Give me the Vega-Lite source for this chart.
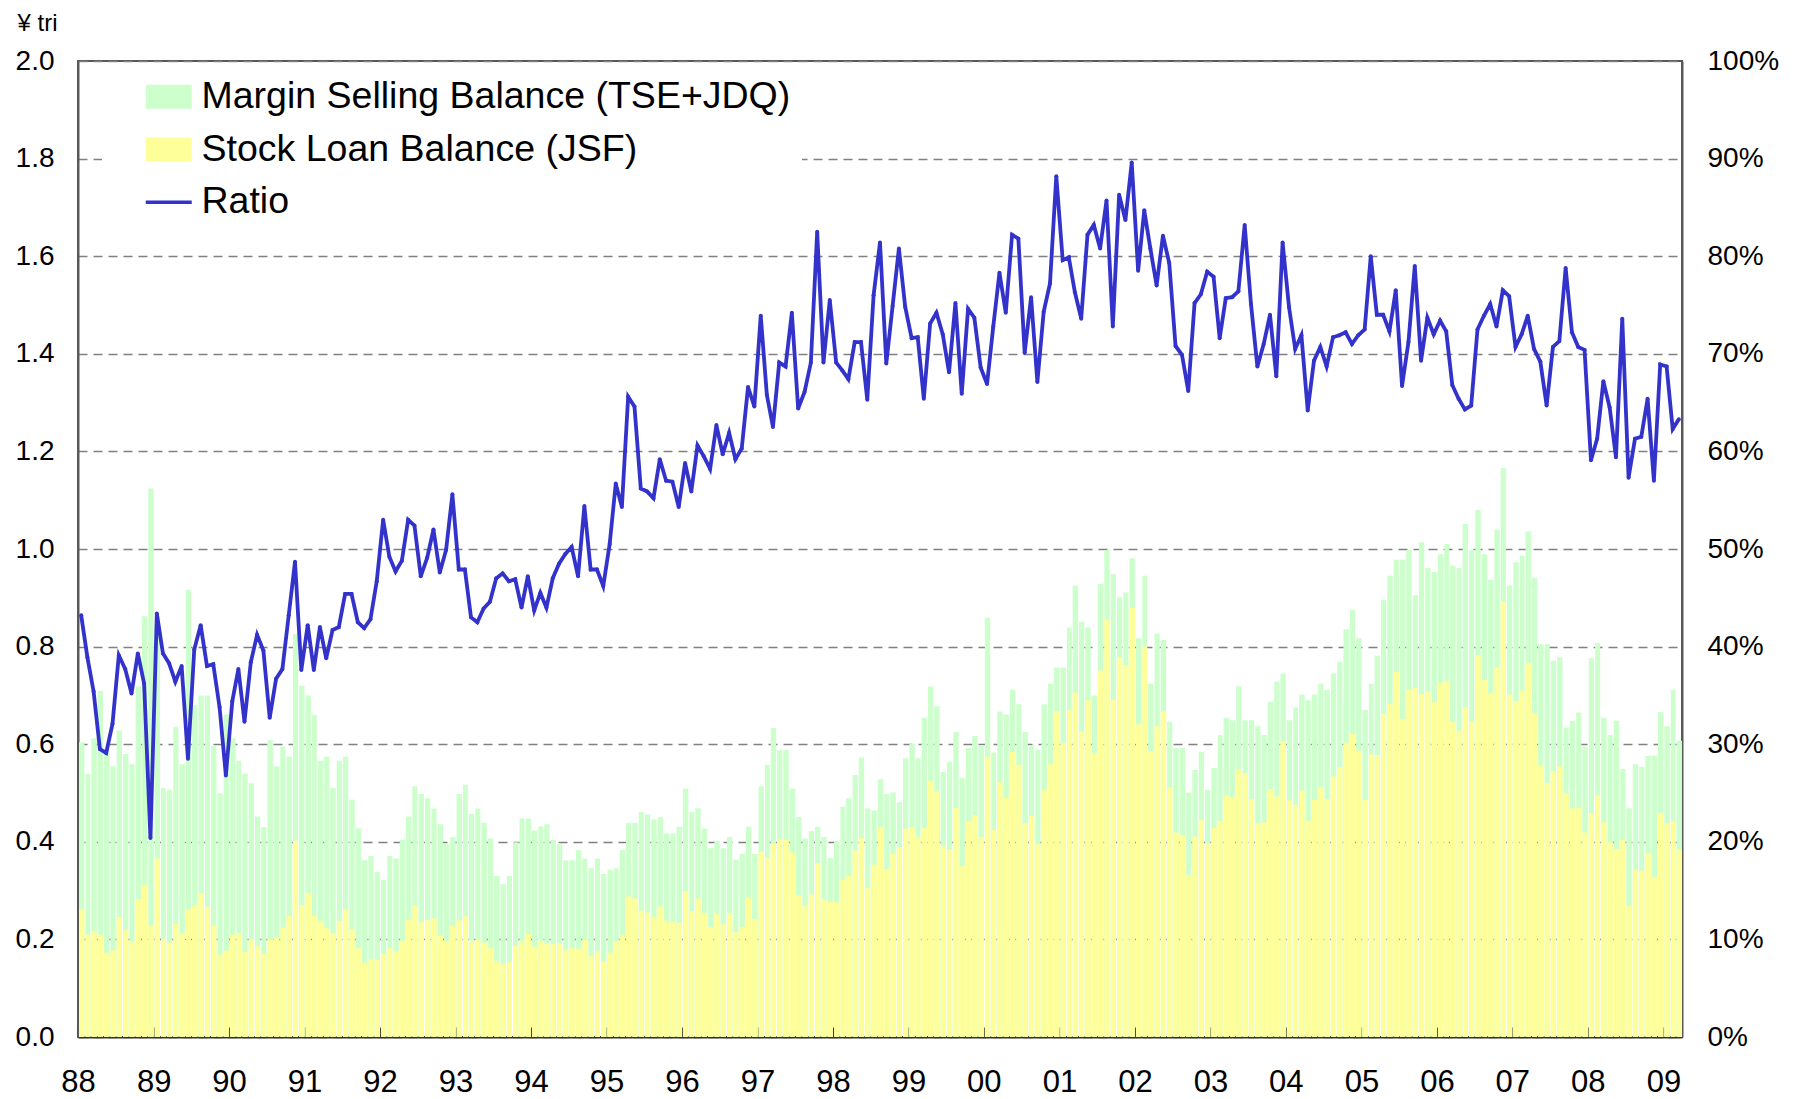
{
"$schema": "https://vega.github.io/schema/vega-lite/v6.json",
"width": 1604, "height": 976,
"autosize": {"type": "none"},
"padding": {"left": 78, "top": 61, "right": 112, "bottom": 62},
"background": "white",
"config": {"view": {"stroke": "#595959", "strokeWidth": 2}, "font": "Liberation Sans"},
"data": {"values": [
{"d":"1988-01-01","g":0.604,"s":0.261,"r":0.432},{"d":"1988-02-01","g":0.539,"s":0.210,"r":0.389},{"d":"1988-03-01","g":0.612,"s":0.217,"r":0.354},{"d":"1988-04-01","g":0.709,"s":0.209,"r":0.295},{"d":"1988-05-01","g":0.590,"s":0.172,"r":0.291},{"d":"1988-06-01","g":0.555,"s":0.178,"r":0.321},{"d":"1988-07-01","g":0.628,"s":0.246,"r":0.391},{"d":"1988-08-01","g":0.580,"s":0.219,"r":0.377},{"d":"1988-09-01","g":0.559,"s":0.197,"r":0.352},{"d":"1988-10-01","g":0.719,"s":0.283,"r":0.393},{"d":"1988-11-01","g":0.862,"s":0.312,"r":0.362},{"d":"1988-12-01","g":1.124,"s":0.229,"r":0.204},
{"d":"1989-01-01","g":0.843,"s":0.366,"r":0.434},{"d":"1989-02-01","g":0.510,"s":0.200,"r":0.393},{"d":"1989-03-01","g":0.506,"s":0.194,"r":0.383},{"d":"1989-04-01","g":0.636,"s":0.232,"r":0.364},{"d":"1989-05-01","g":0.559,"s":0.212,"r":0.380},{"d":"1989-06-01","g":0.916,"s":0.261,"r":0.285},{"d":"1989-07-01","g":0.680,"s":0.270,"r":0.397},{"d":"1989-08-01","g":0.700,"s":0.295,"r":0.422},{"d":"1989-09-01","g":0.700,"s":0.266,"r":0.380},{"d":"1989-10-01","g":0.596,"s":0.228,"r":0.382},{"d":"1989-11-01","g":0.500,"s":0.169,"r":0.338},{"d":"1989-12-01","g":0.661,"s":0.177,"r":0.268},
{"d":"1990-01-01","g":0.612,"s":0.210,"r":0.344},{"d":"1990-02-01","g":0.566,"s":0.213,"r":0.377},{"d":"1990-03-01","g":0.540,"s":0.174,"r":0.323},{"d":"1990-04-01","g":0.520,"s":0.200,"r":0.384},{"d":"1990-05-01","g":0.452,"s":0.186,"r":0.412},{"d":"1990-06-01","g":0.430,"s":0.170,"r":0.396},{"d":"1990-07-01","g":0.608,"s":0.199,"r":0.327},{"d":"1990-08-01","g":0.555,"s":0.204,"r":0.367},{"d":"1990-09-01","g":0.595,"s":0.224,"r":0.377},{"d":"1990-10-01","g":0.575,"s":0.248,"r":0.432},{"d":"1990-11-01","g":0.826,"s":0.402,"r":0.487},{"d":"1990-12-01","g":0.720,"s":0.270,"r":0.376},
{"d":"1991-01-01","g":0.700,"s":0.295,"r":0.422},{"d":"1991-02-01","g":0.660,"s":0.248,"r":0.376},{"d":"1991-03-01","g":0.566,"s":0.238,"r":0.420},{"d":"1991-04-01","g":0.575,"s":0.223,"r":0.388},{"d":"1991-05-01","g":0.510,"s":0.213,"r":0.417},{"d":"1991-06-01","g":0.566,"s":0.238,"r":0.420},{"d":"1991-07-01","g":0.575,"s":0.261,"r":0.454},{"d":"1991-08-01","g":0.486,"s":0.221,"r":0.454},{"d":"1991-09-01","g":0.428,"s":0.182,"r":0.425},{"d":"1991-10-01","g":0.362,"s":0.152,"r":0.419},{"d":"1991-11-01","g":0.371,"s":0.159,"r":0.428},{"d":"1991-12-01","g":0.338,"s":0.158,"r":0.467},
{"d":"1992-01-01","g":0.322,"s":0.171,"r":0.530},{"d":"1992-02-01","g":0.371,"s":0.183,"r":0.492},{"d":"1992-03-01","g":0.366,"s":0.175,"r":0.477},{"d":"1992-04-01","g":0.404,"s":0.197,"r":0.488},{"d":"1992-05-01","g":0.452,"s":0.240,"r":0.530},{"d":"1992-06-01","g":0.514,"s":0.269,"r":0.524},{"d":"1992-07-01","g":0.498,"s":0.235,"r":0.472},{"d":"1992-08-01","g":0.489,"s":0.240,"r":0.491},{"d":"1992-09-01","g":0.468,"s":0.243,"r":0.520},{"d":"1992-10-01","g":0.436,"s":0.208,"r":0.476},{"d":"1992-11-01","g":0.395,"s":0.197,"r":0.499},{"d":"1992-12-01","g":0.410,"s":0.228,"r":0.556},
{"d":"1993-01-01","g":0.498,"s":0.239,"r":0.479},{"d":"1993-02-01","g":0.517,"s":0.248,"r":0.479},{"d":"1993-03-01","g":0.457,"s":0.197,"r":0.430},{"d":"1993-04-01","g":0.468,"s":0.199,"r":0.425},{"d":"1993-05-01","g":0.439,"s":0.193,"r":0.439},{"d":"1993-06-01","g":0.407,"s":0.182,"r":0.446},{"d":"1993-07-01","g":0.330,"s":0.155,"r":0.470},{"d":"1993-08-01","g":0.313,"s":0.149,"r":0.475},{"d":"1993-09-01","g":0.330,"s":0.154,"r":0.467},{"d":"1993-10-01","g":0.399,"s":0.187,"r":0.469},{"d":"1993-11-01","g":0.448,"s":0.197,"r":0.440},{"d":"1993-12-01","g":0.448,"s":0.211,"r":0.472},
{"d":"1994-01-01","g":0.423,"s":0.185,"r":0.437},{"d":"1994-02-01","g":0.432,"s":0.197,"r":0.455},{"d":"1994-03-01","g":0.436,"s":0.192,"r":0.440},{"d":"1994-04-01","g":0.404,"s":0.190,"r":0.470},{"d":"1994-05-01","g":0.395,"s":0.192,"r":0.485},{"d":"1994-06-01","g":0.362,"s":0.179,"r":0.495},{"d":"1994-07-01","g":0.362,"s":0.182,"r":0.502},{"d":"1994-08-01","g":0.383,"s":0.181,"r":0.472},{"d":"1994-09-01","g":0.366,"s":0.199,"r":0.544},{"d":"1994-10-01","g":0.346,"s":0.166,"r":0.479},{"d":"1994-11-01","g":0.366,"s":0.175,"r":0.479},{"d":"1994-12-01","g":0.334,"s":0.154,"r":0.462},
{"d":"1995-01-01","g":0.342,"s":0.173,"r":0.505},{"d":"1995-02-01","g":0.346,"s":0.196,"r":0.567},{"d":"1995-03-01","g":0.383,"s":0.208,"r":0.543},{"d":"1995-04-01","g":0.439,"s":0.288,"r":0.656},{"d":"1995-05-01","g":0.439,"s":0.284,"r":0.646},{"d":"1995-06-01","g":0.461,"s":0.259,"r":0.562},{"d":"1995-07-01","g":0.456,"s":0.255,"r":0.559},{"d":"1995-08-01","g":0.446,"s":0.246,"r":0.552},{"d":"1995-09-01","g":0.451,"s":0.267,"r":0.592},{"d":"1995-10-01","g":0.417,"s":0.238,"r":0.570},{"d":"1995-11-01","g":0.417,"s":0.237,"r":0.569},{"d":"1995-12-01","g":0.431,"s":0.234,"r":0.543},
{"d":"1996-01-01","g":0.509,"s":0.299,"r":0.588},{"d":"1996-02-01","g":0.461,"s":0.258,"r":0.559},{"d":"1996-03-01","g":0.469,"s":0.284,"r":0.606},{"d":"1996-04-01","g":0.427,"s":0.254,"r":0.595},{"d":"1996-05-01","g":0.387,"s":0.225,"r":0.582},{"d":"1996-06-01","g":0.402,"s":0.252,"r":0.627},{"d":"1996-07-01","g":0.387,"s":0.231,"r":0.597},{"d":"1996-08-01","g":0.410,"s":0.254,"r":0.619},{"d":"1996-09-01","g":0.363,"s":0.215,"r":0.592},{"d":"1996-10-01","g":0.375,"s":0.226,"r":0.603},{"d":"1996-11-01","g":0.431,"s":0.287,"r":0.666},{"d":"1996-12-01","g":0.375,"s":0.242,"r":0.646},
{"d":"1997-01-01","g":0.514,"s":0.380,"r":0.739},{"d":"1997-02-01","g":0.558,"s":0.367,"r":0.658},{"d":"1997-03-01","g":0.633,"s":0.396,"r":0.625},{"d":"1997-04-01","g":0.588,"s":0.406,"r":0.691},{"d":"1997-05-01","g":0.588,"s":0.404,"r":0.687},{"d":"1997-06-01","g":0.509,"s":0.378,"r":0.742},{"d":"1997-07-01","g":0.451,"s":0.290,"r":0.644},{"d":"1997-08-01","g":0.407,"s":0.269,"r":0.661},{"d":"1997-09-01","g":0.422,"s":0.292,"r":0.691},{"d":"1997-10-01","g":0.431,"s":0.356,"r":0.825},{"d":"1997-11-01","g":0.410,"s":0.283,"r":0.691},{"d":"1997-12-01","g":0.367,"s":0.277,"r":0.755},
{"d":"1998-01-01","g":0.400,"s":0.276,"r":0.691},{"d":"1998-02-01","g":0.472,"s":0.322,"r":0.683},{"d":"1998-03-01","g":0.489,"s":0.330,"r":0.674},{"d":"1998-04-01","g":0.537,"s":0.382,"r":0.712},{"d":"1998-05-01","g":0.573,"s":0.408,"r":0.712},{"d":"1998-06-01","g":0.468,"s":0.306,"r":0.653},{"d":"1998-07-01","g":0.464,"s":0.353,"r":0.760},{"d":"1998-08-01","g":0.528,"s":0.430,"r":0.814},{"d":"1998-09-01","g":0.498,"s":0.344,"r":0.690},{"d":"1998-10-01","g":0.501,"s":0.375,"r":0.749},{"d":"1998-11-01","g":0.481,"s":0.389,"r":0.808},{"d":"1998-12-01","g":0.571,"s":0.427,"r":0.748},
{"d":"1999-01-01","g":0.601,"s":0.430,"r":0.716},{"d":"1999-02-01","g":0.571,"s":0.409,"r":0.717},{"d":"1999-03-01","g":0.654,"s":0.428,"r":0.654},{"d":"1999-04-01","g":0.718,"s":0.525,"r":0.731},{"d":"1999-05-01","g":0.678,"s":0.503,"r":0.742},{"d":"1999-06-01","g":0.543,"s":0.391,"r":0.720},{"d":"1999-07-01","g":0.564,"s":0.384,"r":0.681},{"d":"1999-08-01","g":0.625,"s":0.470,"r":0.752},{"d":"1999-09-01","g":0.531,"s":0.350,"r":0.659},{"d":"1999-10-01","g":0.592,"s":0.442,"r":0.746},{"d":"1999-11-01","g":0.617,"s":0.455,"r":0.737},{"d":"1999-12-01","g":0.598,"s":0.410,"r":0.686},
{"d":"2000-01-01","g":0.859,"s":0.575,"r":0.669},{"d":"2000-02-01","g":0.583,"s":0.424,"r":0.728},{"d":"2000-03-01","g":0.667,"s":0.522,"r":0.783},{"d":"2000-04-01","g":0.661,"s":0.490,"r":0.742},{"d":"2000-05-01","g":0.711,"s":0.584,"r":0.822},{"d":"2000-06-01","g":0.682,"s":0.558,"r":0.818},{"d":"2000-07-01","g":0.625,"s":0.438,"r":0.701},{"d":"2000-08-01","g":0.598,"s":0.453,"r":0.758},{"d":"2000-09-01","g":0.588,"s":0.395,"r":0.671},{"d":"2000-10-01","g":0.682,"s":0.507,"r":0.743},{"d":"2000-11-01","g":0.724,"s":0.559,"r":0.772},{"d":"2000-12-01","g":0.757,"s":0.668,"r":0.882},
{"d":"2001-01-01","g":0.757,"s":0.603,"r":0.796},{"d":"2001-02-01","g":0.839,"s":0.670,"r":0.799},{"d":"2001-03-01","g":0.925,"s":0.706,"r":0.763},{"d":"2001-04-01","g":0.851,"s":0.626,"r":0.736},{"d":"2001-05-01","g":0.839,"s":0.690,"r":0.822},{"d":"2001-06-01","g":0.700,"s":0.582,"r":0.832},{"d":"2001-07-01","g":0.929,"s":0.751,"r":0.808},{"d":"2001-08-01","g":0.998,"s":0.855,"r":0.857},{"d":"2001-09-01","g":0.949,"s":0.691,"r":0.728},{"d":"2001-10-01","g":0.901,"s":0.778,"r":0.863},{"d":"2001-11-01","g":0.911,"s":0.762,"r":0.837},{"d":"2001-12-01","g":0.981,"s":0.879,"r":0.896},
{"d":"2002-01-01","g":0.817,"s":0.641,"r":0.785},{"d":"2002-02-01","g":0.945,"s":0.800,"r":0.847},{"d":"2002-03-01","g":0.724,"s":0.585,"r":0.808},{"d":"2002-04-01","g":0.827,"s":0.637,"r":0.770},{"d":"2002-05-01","g":0.814,"s":0.668,"r":0.821},{"d":"2002-06-01","g":0.646,"s":0.512,"r":0.793},{"d":"2002-07-01","g":0.592,"s":0.419,"r":0.708},{"d":"2002-08-01","g":0.592,"s":0.414,"r":0.699},{"d":"2002-09-01","g":0.501,"s":0.332,"r":0.662},{"d":"2002-10-01","g":0.547,"s":0.411,"r":0.752},{"d":"2002-11-01","g":0.584,"s":0.444,"r":0.761},{"d":"2002-12-01","g":0.506,"s":0.397,"r":0.784},
{"d":"2003-01-01","g":0.551,"s":0.429,"r":0.779},{"d":"2003-02-01","g":0.619,"s":0.443,"r":0.716},{"d":"2003-03-01","g":0.654,"s":0.495,"r":0.757},{"d":"2003-04-01","g":0.649,"s":0.492,"r":0.758},{"d":"2003-05-01","g":0.719,"s":0.549,"r":0.764},{"d":"2003-06-01","g":0.649,"s":0.540,"r":0.832},{"d":"2003-07-01","g":0.649,"s":0.487,"r":0.751},{"d":"2003-08-01","g":0.637,"s":0.438,"r":0.687},{"d":"2003-09-01","g":0.619,"s":0.440,"r":0.710},{"d":"2003-10-01","g":0.687,"s":0.508,"r":0.740},{"d":"2003-11-01","g":0.728,"s":0.493,"r":0.677},{"d":"2003-12-01","g":0.745,"s":0.606,"r":0.814},
{"d":"2004-01-01","g":0.649,"s":0.485,"r":0.748},{"d":"2004-02-01","g":0.675,"s":0.476,"r":0.705},{"d":"2004-03-01","g":0.702,"s":0.505,"r":0.719},{"d":"2004-04-01","g":0.690,"s":0.443,"r":0.642},{"d":"2004-05-01","g":0.702,"s":0.486,"r":0.693},{"d":"2004-06-01","g":0.724,"s":0.512,"r":0.707},{"d":"2004-07-01","g":0.711,"s":0.488,"r":0.687},{"d":"2004-08-01","g":0.745,"s":0.534,"r":0.717},{"d":"2004-09-01","g":0.769,"s":0.553,"r":0.719},{"d":"2004-10-01","g":0.835,"s":0.603,"r":0.722},{"d":"2004-11-01","g":0.875,"s":0.621,"r":0.710},{"d":"2004-12-01","g":0.817,"s":0.587,"r":0.719},
{"d":"2005-01-01","g":0.670,"s":0.486,"r":0.725},{"d":"2005-02-01","g":0.724,"s":0.579,"r":0.800},{"d":"2005-03-01","g":0.781,"s":0.578,"r":0.740},{"d":"2005-04-01","g":0.896,"s":0.663,"r":0.740},{"d":"2005-05-01","g":0.945,"s":0.683,"r":0.723},{"d":"2005-06-01","g":0.978,"s":0.748,"r":0.765},{"d":"2005-07-01","g":0.978,"s":0.652,"r":0.667},{"d":"2005-08-01","g":0.998,"s":0.711,"r":0.712},{"d":"2005-09-01","g":0.905,"s":0.715,"r":0.790},{"d":"2005-10-01","g":1.014,"s":0.703,"r":0.693},{"d":"2005-11-01","g":0.961,"s":0.708,"r":0.737},{"d":"2005-12-01","g":0.953,"s":0.686,"r":0.720},
{"d":"2006-01-01","g":0.989,"s":0.726,"r":0.734},{"d":"2006-02-01","g":1.010,"s":0.730,"r":0.723},{"d":"2006-03-01","g":0.966,"s":0.645,"r":0.668},{"d":"2006-04-01","g":0.961,"s":0.628,"r":0.654},{"d":"2006-05-01","g":1.051,"s":0.676,"r":0.643},{"d":"2006-06-01","g":0.998,"s":0.646,"r":0.647},{"d":"2006-07-01","g":1.080,"s":0.783,"r":0.725},{"d":"2006-08-01","g":0.989,"s":0.731,"r":0.739},{"d":"2006-09-01","g":0.937,"s":0.704,"r":0.751},{"d":"2006-10-01","g":1.040,"s":0.757,"r":0.728},{"d":"2006-11-01","g":1.166,"s":0.892,"r":0.765},{"d":"2006-12-01","g":0.925,"s":0.702,"r":0.759},
{"d":"2007-01-01","g":0.973,"s":0.688,"r":0.707},{"d":"2007-02-01","g":0.986,"s":0.710,"r":0.720},{"d":"2007-03-01","g":1.036,"s":0.766,"r":0.739},{"d":"2007-04-01","g":0.941,"s":0.663,"r":0.705},{"d":"2007-05-01","g":0.805,"s":0.557,"r":0.692},{"d":"2007-06-01","g":0.805,"s":0.521,"r":0.647},{"d":"2007-07-01","g":0.771,"s":0.545,"r":0.707},{"d":"2007-08-01","g":0.778,"s":0.555,"r":0.713},{"d":"2007-09-01","g":0.634,"s":0.500,"r":0.788},{"d":"2007-10-01","g":0.648,"s":0.468,"r":0.722},{"d":"2007-11-01","g":0.665,"s":0.470,"r":0.707},{"d":"2007-12-01","g":0.595,"s":0.419,"r":0.704},
{"d":"2008-01-01","g":0.776,"s":0.459,"r":0.591},{"d":"2008-02-01","g":0.808,"s":0.495,"r":0.613},{"d":"2008-03-01","g":0.654,"s":0.440,"r":0.672},{"d":"2008-04-01","g":0.619,"s":0.399,"r":0.645},{"d":"2008-05-01","g":0.648,"s":0.385,"r":0.594},{"d":"2008-06-01","g":0.549,"s":0.404,"r":0.736},{"d":"2008-07-01","g":0.469,"s":0.269,"r":0.573},{"d":"2008-08-01","g":0.559,"s":0.343,"r":0.613},{"d":"2008-09-01","g":0.554,"s":0.341,"r":0.615},{"d":"2008-10-01","g":0.576,"s":0.377,"r":0.654},{"d":"2008-11-01","g":0.576,"s":0.328,"r":0.570},{"d":"2008-12-01","g":0.666,"s":0.459,"r":0.689},
{"d":"2009-01-01","g":0.637,"s":0.438,"r":0.687},{"d":"2009-02-01","g":0.711,"s":0.443,"r":0.623},{"d":"2009-03-01","g":0.607,"s":0.384,"r":0.633}
]},
"encoding": {
  "x": {"field": "d", "timeUnit": "utcyearmonth", "type": "temporal",
    "scale": {"domain": ["1988-01-01", "2009-04-01"], "nice": false},
    "axis": {"format": "%y", "tickCount": {"interval": "year", "step": 1}, "labelFontSize": 31, "labelFont": "Liberation Sans", "labelColor": "black", "tickSize": -10, "tickColor": "#333333", "tickWidth": 1.5, "domainColor": "#333333", "domainWidth": 2, "labelPadding": 40, "grid": false, "title": null, "labelAngle": 0, "labelFlush": false, "labelOverlap": false}}
},
"layer": [
  {"layer": [
    {"mark": {"type": "bar"},
     "encoding": {
       "y": {"field": "g", "type": "quantitative", "scale": {"domain": [0, 2], "nice": false},
         "axis": {"orient": "left", "values": [0, 0.2, 0.4, 0.6, 0.8, 1.0, 1.2, 1.4, 1.6, 1.8, 2.0], "format": ".1f", "labelFontSize": 28, "labelFont": "Liberation Sans", "labelColor": "black", "ticks": false, "labelPadding": 24, "domainColor": "#595959", "domainWidth": 2, "grid": true, "gridColor": "#808080", "gridDash": [9, 6], "gridWidth": 1.5, "title": "¥ tri", "titleAngle": 0, "titleX": -61, "titleY": -31, "titleAlign": "left", "titleBaseline": "alphabetic", "titleFontSize": 24, "titleFont": "Liberation Sans", "titleFontWeight": "normal", "titleColor": "black"}},
       "color": {"datum": "Margin Selling Balance (TSE+JDQ)", "type": "nominal",
         "scale": {"domain": ["Margin Selling Balance (TSE+JDQ)", "Stock Loan Balance (JSF)", "Ratio"], "range": ["#ccffcc", "#ffff99", "#3333cc"]},
         "legend": {"orient": "none", "legendX": 24, "legendY": 6, "title": null, "fillColor": "white", "padding": 11, "labelFontSize": 37.5, "labelFont": "Liberation Sans", "labelColor": "black", "labelLimit": 1000, "symbolSize": 2116, "symbolOffset": 37, "labelOffset": 14, "rowPadding": 13.8,
           "encode": {"symbols": {"update": {
             "shape": {"signal": "datum.value === 'Ratio' ? 'stroke' : 'M-1,-0.52H1V0.52H-1Z'"},
             "fill": {"signal": "datum.value === 'Ratio' ? 'transparent' : scale('color', datum.value)"},
             "stroke": {"signal": "datum.value === 'Ratio' ? '#3333cc' : 'transparent'"},
             "strokeWidth": {"signal": "datum.value === 'Ratio' ? 3.5 : 0"},
             "opacity": {"value": 1}, "fillOpacity": {"value": 1}, "strokeOpacity": {"value": 1}}}}}}
     }},
    {"mark": {"type": "bar"},
     "encoding": {
       "y": {"field": "s", "type": "quantitative"},
       "color": {"datum": "Stock Loan Balance (JSF)", "type": "nominal"}
     }}
  ]},
  {"mark": {"type": "line", "strokeWidth": 3.8, "point": {"filled": true, "size": 16}},
   "encoding": {
     "x": {"field": "d", "timeUnit": "utcyearmonth", "type": "temporal", "bandPosition": 0.5},
     "y": {"field": "r", "type": "quantitative", "scale": {"domain": [0, 1], "nice": false},
       "axis": {"orient": "right", "values": [0, 0.1, 0.2, 0.3, 0.4, 0.5, 0.6, 0.7, 0.8, 0.9, 1.0], "format": ".0%", "labelFontSize": 28, "labelFont": "Liberation Sans", "labelColor": "black", "ticks": false, "labelPadding": 25, "grid": false, "title": null, "domainColor": "#595959", "domainWidth": 2}},
     "color": {"datum": "Ratio", "type": "nominal"}
   }}
],
"resolve": {"scale": {"y": "independent"}}
}
